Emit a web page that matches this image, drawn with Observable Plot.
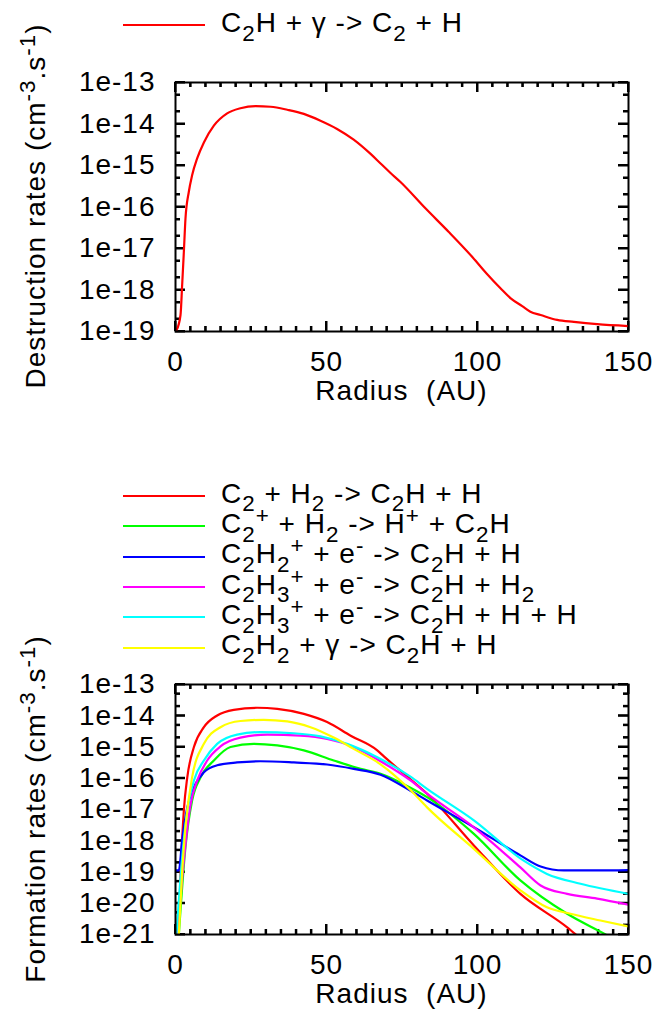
<!DOCTYPE html>
<html><head><meta charset="utf-8">
<script src="https://cdn.jsdelivr.net/npm/d3@7"></script>
<script src="https://cdn.jsdelivr.net/npm/@observablehq/plot@0.6"></script>
<style>
html,body{margin:0;padding:0;background:#fff;}
#page{position:relative;width:657px;height:1014px;overflow:hidden;font-family:"Liberation Sans",Arial,sans-serif;font-size:28px;letter-spacing:1px;color:#000;background:#fff;}
.abs{position:absolute;white-space:pre;line-height:28px;}
.sub,.sup{font-size:0.8em;position:relative;}
.sub{top:8.7px}
.sup{top:-10px}
.key{position:absolute;height:2px;width:82px;left:123px;}
.ylab{transform:translate(-50%,-50%) rotate(-90deg);}
.xlab{transform:translateX(-50%);}
</style></head><body><div id="page"></div>
<script>
// ---- axis ticks ----
const xMajor = [0, 50, 100, 150];
const xMinor = [5,10,15,20,25,30,35,40,45,55,60,65,70,75,80,85,90,95,105,110,115,120,125,130,135,140,145];
const destTicks = [1e-19, 1e-18, 1e-17, 1e-16, 1e-15, 1e-14, 1e-13];
const formTicks = [1e-21, 1e-20, 1e-19, 1e-18, 1e-17, 1e-16, 1e-15, 1e-14, 1e-13];
const minorFactors = [2, 5];

// ---- destruction: C2H + γ -> C2 + H ----
const destR = [0.4,1.66,2.2,2.76,3.3,4.4,5.5,7.2,9.4,12.7,17.1,21.5,26.5,31.5,37,42.5,48,53.5,59,64.6,68,71.2,74.5,83,90.5,98.5,103,107.6,111,114.8,117.5,120.9,126.4,131.9,139.6,150];
const destRate = [1.1e-19,2.5e-19,1.3e-18,8.1e-18,5.2e-17,2.3e-16,5.8e-16,1.5e-15,3.6e-15,9.1e-15,1.8e-14,2.4e-14,2.7e-14,2.6e-14,2.2e-14,1.75e-14,1.2e-14,7.6e-15,4.2e-15,1.9e-15,1.1e-15,6.6e-16,4.0e-16,8.9e-17,2.5e-17,6.0e-18,2.5e-18,1.1e-18,6.3e-19,4.1e-19,3.0e-19,2.5e-19,1.9e-19,1.7e-19,1.5e-19,1.35e-19];

// ---- formation series ----
const redR = [1.0,1.7,2.76,3.9,6.1,9.4,13.8,19.3,27,33.7,42.5,50.2,58,66.8,69,77.8,83.3,98.8,114.2,129.7,133,138];
const redRate = [1e-21,1e-19,9.3e-18,1.07e-16,1e-15,4.3e-15,1.02e-14,1.55e-14,1.8e-14,1.66e-14,1.15e-14,6.3e-15,2.3e-15,7.8e-16,5.0e-16,9.3e-17,3.2e-17,7.1e-19,2.0e-20,1.7e-21,9.3e-22,5e-22];

const grnR = [1.1,3.3,5.5,8.3,12.7,18.2,25.9,33.7,42.5,52.4,61.3,67.9,77.8,83.3,98.8,114.2,129.7,143,146];
const grnRate = [1e-21,6.3e-19,1.95e-17,1.07e-16,3.7e-16,1.0e-15,1.26e-15,1.12e-15,7.8e-16,3.7e-16,2.0e-16,1.4e-16,5.0e-17,2.5e-17,1.66e-18,5.4e-20,4.6e-21,9.3e-22,6.3e-22];

const bluR = [0,1.1,2.2,3.9,6.1,9.4,13.8,20.4,28.1,39.2,50.2,59,67.9,77.8,83.3,98.8,114.2,120.9,128.6,139.6,150];
const bluRate = [1.12e-19,1.12e-19,1.02e-18,1.17e-17,5.1e-17,1.55e-16,2.6e-16,3.2e-16,3.5e-16,3.2e-16,2.75e-16,2.0e-16,1.3e-16,4.0e-17,1.95e-17,2.7e-18,3.4e-19,1.5e-19,1.12e-19,1.12e-19,1.15e-19];

const magR = [0.7,2.76,5,7.2,10.5,14.9,21.5,30.4,41.4,50.2,59,67.9,77.8,83.3,98.8,114.2,120.9,129.7,139.6,150];
const magRate = [1e-21,2.3e-19,1.5e-17,8.5e-17,3.7e-16,1.05e-15,2.0e-15,2.5e-15,2.3e-15,1.8e-15,1.0e-15,3.5e-16,8.5e-17,3.2e-17,2.7e-18,1.4e-19,3.7e-20,2.0e-20,1.4e-20,8.9e-21];

const cyaR = [0.3,1.66,3.9,6.1,9.4,13.8,20.4,28.1,39.2,48,56.8,66.8,77.8,83.3,98.8,115.3,123,134.1,150];
const cyaRate = [1e-21,6.8e-20,9.3e-18,8.5e-17,3.7e-16,1.26e-15,2.5e-15,3.0e-15,2.75e-15,2.2e-15,1.26e-15,4.7e-16,1.12e-16,4.6e-17,4.5e-18,2.3e-19,8.7e-20,4.2e-20,2.0e-20];

const yelR = [1.1,2.2,3.3,5.5,9.4,14.9,21.5,29.2,37,44.7,52.4,59,67.9,77.8,83.3,98.8,114.2,123,130.8,140.7,150];
const yelRate = [1e-21,1e-19,2.7e-18,1.07e-16,1.26e-15,4.3e-15,6.8e-15,7.4e-15,6.6e-15,4.3e-15,2.0e-15,8.7e-16,2.8e-16,4.2e-17,1.17e-17,5.5e-19,2.6e-20,7.4e-21,4.6e-21,2.8e-21,1.8e-21];

// ---- labels and colours ----
const destLabel = 'C<span class="sub">2</span>H + γ -> C<span class="sub">2</span> + H';
const destColor = "#ff0000";
const formLabels = [
  'C<span class="sub">2</span> + H<span class="sub">2</span> -> C<span class="sub">2</span>H + H',
  'C<span class="sub">2</span><span class="sup">+</span> + H<span class="sub">2</span> -> H<span class="sup">+</span> + C<span class="sub">2</span>H',
  'C<span class="sub">2</span>H<span class="sub">2</span><span class="sup">+</span> + e<span class="sup">-</span> -> C<span class="sub">2</span>H + H',
  'C<span class="sub">2</span>H<span class="sub">3</span><span class="sup">+</span> + e<span class="sup">-</span> -> C<span class="sub">2</span>H + H<span class="sub">2</span>',
  'C<span class="sub">2</span>H<span class="sub">3</span><span class="sup">+</span> + e<span class="sup">-</span> -> C<span class="sub">2</span>H + H + H',
  'C<span class="sub">2</span>H<span class="sub">2</span> + γ -> C<span class="sub">2</span>H + H'
];
const formColors = ["#ff0000", "#00ff00", "#0000ff", "#ff00ff", "#00ffff", "#ffff00"];
const formR = [redR, grnR, bluR, magR, cyaR, yelR];
const formRate = [redRate, grnRate, bluRate, magRate, cyaRate, yelRate];
const destTitle = 'Destruction rates (cm<span class="sup">-3</span>.s<span class="sup">-1</span>)';
const formTitle = 'Formation rates (cm<span class="sup">-3</span>.s<span class="sup">-1</span>)';
const xTitle = 'Radius  (AU)';

// ---- layout ----
const W = 657, ML = 175, MR = 29, MT = 22, MB = 50;
const FW = W - ML - MR;
const page = document.getElementById("page");
const fmt = d => "1e" + Math.round(Math.log10(d));

function makeChart(series, yTicks, frameH, top) {
  const H = MT + frameH + MB;
  const yMinor = yTicks.slice(0, -1).flatMap(d => minorFactors.map(f => f * d));
  const tk = {stroke: "#000", strokeWidth: 2};
  const lineTicks = [
    Plot.tickX(xMinor, {x: d => d, insetTop: frameH - 5, ...tk}),
    Plot.tickX(xMinor, {x: d => d, insetBottom: frameH - 5, ...tk}),
    Plot.tickX(xMajor, {x: d => d, insetTop: frameH - 10, ...tk}),
    Plot.tickX(xMajor, {x: d => d, insetBottom: frameH - 10, ...tk}),
    Plot.tickY(yMinor, {y: d => d, insetRight: FW - 5, ...tk}),
    Plot.tickY(yMinor, {y: d => d, insetLeft: FW - 5, ...tk}),
    Plot.tickY(yTicks, {y: d => d, insetRight: FW - 10, ...tk}),
    Plot.tickY(yTicks, {y: d => d, insetLeft: FW - 10, ...tk})
  ];
  // the same ticks drawn again as small filled rectangles
  const rk = {fill: "#000"};
  let rectTicks = [];
  try {
    rectTicks = [
      Plot.rect(xMinor, {x1: d => d, x2: d => d, insetLeft: -1, insetRight: -1, insetTop: frameH - 5, ...rk}),
      Plot.rect(xMinor, {x1: d => d, x2: d => d, insetLeft: -1, insetRight: -1, insetBottom: frameH - 5, ...rk}),
      Plot.rect(xMajor, {x1: d => d, x2: d => d, insetLeft: -1, insetRight: -1, insetTop: frameH - 10, ...rk}),
      Plot.rect(xMajor, {x1: d => d, x2: d => d, insetLeft: -1, insetRight: -1, insetBottom: frameH - 10, ...rk}),
      Plot.rect(yMinor, {y1: d => d, y2: d => d, insetTop: -1, insetBottom: -1, insetRight: FW - 5, ...rk}),
      Plot.rect(yMinor, {y1: d => d, y2: d => d, insetTop: -1, insetBottom: -1, insetLeft: FW - 5, ...rk}),
      Plot.rect(yTicks, {y1: d => d, y2: d => d, insetTop: -1, insetBottom: -1, insetRight: FW - 10, ...rk}),
      Plot.rect(yTicks, {y1: d => d, y2: d => d, insetTop: -1, insetBottom: -1, insetLeft: FW - 10, ...rk})
    ];
  } catch (e) { rectTicks = []; }
  const labelMarks = [
    Plot.axisX({ticks: xMajor, tickSize: 0, tickPadding: 20, tickFormat: d => String(d), label: null}),
    Plot.axisY({ticks: yTicks, tickSize: 0, tickPadding: 20, tickFormat: fmt, label: null})
  ];
  const lineMarks = series.map(s => {
    const rows = s.r.map((r, i) => ({r, v: s.v[i]}));
    return Plot.line(rows, {x: "r", y: "v", stroke: s.color, strokeWidth: 2.2, curve: "monotone-x", clip: true});
  });
  const frame = Plot.frame({stroke: "#000", strokeWidth: 2});
  const opts = marks => ({
    width: W, height: H,
    marginLeft: ML, marginRight: MR, marginTop: MT, marginBottom: MB,
    x: {domain: [0, 150]},
    y: {type: "log", domain: [yTicks[0], yTicks[yTicks.length - 1]]},
    style: {fontFamily: '"Liberation Sans", Arial, sans-serif', fontSize: "28px", letterSpacing: "1px", color: "#000", background: "transparent", overflow: "visible"},
    marks
  });
  let svg;
  try {
    svg = Plot.plot(opts([...lineTicks, ...rectTicks, ...labelMarks, ...lineMarks, frame]));
  } catch (e) {
    svg = Plot.plot(opts([...lineTicks, ...labelMarks, ...lineMarks, frame]));
  }
  svg.style.position = "absolute";
  svg.style.left = "0px";
  svg.style.top = top + "px";
  page.appendChild(svg);
}

function addText(html, cls, left, top) {
  const d = document.createElement("div");
  d.className = "abs " + cls;
  d.style.left = left + "px";
  d.style.top = top + "px";
  d.innerHTML = html;
  page.appendChild(d);
}
function addKey(color, y) {
  const k = document.createElement("div");
  k.className = "key";
  k.style.top = (y - 1) + "px";
  k.style.background = color;
  page.appendChild(k);
}

const BASE = 23.7; // baseline offset inside a 28px line box

// top panel
makeChart([{r: destR, v: destRate, color: destColor}], destTicks, 249, 82 - MT);
addKey(destColor, 25);
addText(destLabel, "", 221, 33 - BASE);
addText(destTitle, "ylab", 37, 206);
addText(xTitle, "xlab", ML + FW / 2, 401 - BASE);

// bottom panel
makeChart(formColors.map((c, i) => ({r: formR[i], v: formRate[i], color: c})), formTicks, 250, 684 - MT);
const keyY = [496, 526.3, 556.6, 586.9, 617.2, 647.5];
formLabels.forEach((lab, i) => {
  addKey(formColors[i], keyY[i]);
  addText(lab, "", 221, keyY[i] + 7.5 - BASE);
});
addText(formTitle, "ylab", 37, 809);
addText(xTitle, "xlab", ML + FW / 2, 1004 - BASE);
</script></body></html>
